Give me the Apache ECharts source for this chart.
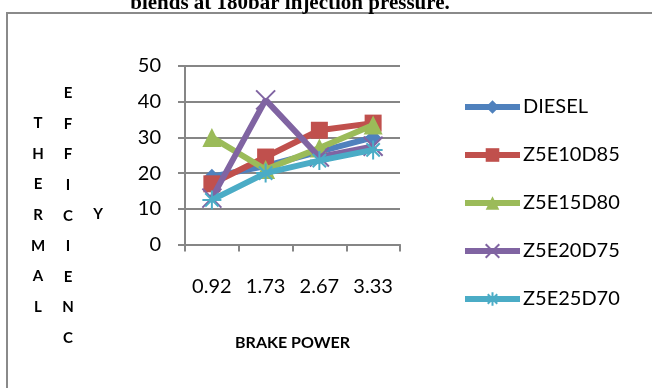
<!DOCTYPE html>
<html>
<head>
<meta charset="utf-8">
<script src="https://cdn.jsdelivr.net/npm/echarts@6/dist/echarts.min.js"></script>
<style>html,body{margin:0;padding:0;background:#fff}#c{width:652px;height:388px}</style>
</head>
<body>
<div id="c"></div>
<script>
const categories = ['0.92', '1.73', '2.67', '3.33'];
const seriesNames = ['DIESEL', 'Z5E10D85', 'Z5E15D80', 'Z5E20D75', 'Z5E25D70'];
const diesel   = [19, 22, 26, 30];
const z5e10d85 = [17, 24.5, 32, 34];
const z5e15d80 = [30, 21, 27, 33.5];
const z5e20d75 = [13, 40.5, 24.5, 27.5];
const z5e25d70 = [12.5, 20, 23.5, 26.5];
const yTicks = [0, 10, 20, 30, 40, 50];

const colors = ['#4F81BD', '#C0504D', '#9BBB59', '#8064A2', '#4BACC6'];
const symbols = [
  'diamond', 'rect', 'triangle',
  'path://M0,0L10,10M10,0L0,10',
  'path://M5,0L5,10M0,5L10,5M1.5,1.5L8.5,8.5M8.5,1.5L1.5,8.5'
];
const sizes = [16, 17, 19, 19, 19];
const values = [diesel, z5e10d85, z5e15d80, z5e20d75, z5e25d70];

const chart = echarts.init(document.getElementById('c'));
chart.setOption({
  animation: false,
  grid: { left: 185, top: 66, right: 252, bottom: 143.5, containLabel: false },
  legend: {
    orient: 'vertical', left: 462, top: 97, padding: 0,
    itemWidth: 55, itemHeight: 17, itemGap: 28,
    lineStyle: { width: 6 },
    textStyle: { fontFamily: 'Lato', fontSize: 20, lineHeight: 20, color: '#000', padding: [0, 0, 0, -2] },
    data: seriesNames
  },
  xAxis: {
    type: 'category', data: categories, boundaryGap: true,
    axisLine: { lineStyle: { color: '#868686', width: 2 } },
    axisTick: { show: true, length: 7, lineStyle: { color: '#868686', width: 2 } },
    axisLabel: { color: '#000', fontFamily: 'Lato', fontSize: 20, margin: 32 },
    name: 'BRAKE POWER', nameLocation: 'middle', nameGap: 90,
    nameTextStyle: { fontFamily: 'Lato', fontWeight: 'bold', fontSize: 16, color: '#000' }
  },
  yAxis: {
    type: 'value', min: 0, max: 50, interval: 10,
    axisLine: { show: true, lineStyle: { color: '#868686', width: 2 } },
    axisTick: { show: true, length: 7, lineStyle: { color: '#868686', width: 2 } },
    splitLine: { lineStyle: { color: '#868686', width: 2 } },
    axisLabel: { color: '#000', fontFamily: 'Lato', fontSize: 20, margin: 24,
      formatter: v => yTicks.includes(v) ? String(v) : '' }
  },
  series: seriesNames.map((n, i) => ({
    name: n, type: 'line', data: values[i],
    symbol: symbols[i], symbolSize: sizes[i],
    lineStyle: { color: colors[i], width: 6 },
    itemStyle: { color: colors[i], borderColor: colors[i], borderWidth: i >= 3 ? 2 : 0 },
    z: 2 + i
  })),
  graphic: [
    { type: 'rect', shape: { x: 7, y: 13, width: 700, height: 420 },
      style: { fill: 'none', stroke: '#8a8a8a', lineWidth: 2 }, silent: true },
    { type: 'text', x: 290, y: 14,
      style: { text: 'blends at 180bar injection pressure.', font: 'bold 21px "Liberation Serif"',
        fill: '#000', textAlign: 'center', textVerticalAlign: 'bottom' } },
    { type: 'text', x: 38, y: 108,
      style: { text: 'T\nH\nE\nR\nM\nA\nL', font: 'bold 15px Lato', lineHeight: 30.6,
        fill: '#000', textAlign: 'center', textVerticalAlign: 'top' } },
    { type: 'text', x: 68, y: 78,
      style: { text: 'E\nF\nF\nI\nC\nI\nE\nN\nC', font: 'bold 15px Lato', lineHeight: 30.6,
        fill: '#000', textAlign: 'center', textVerticalAlign: 'top' } },
    { type: 'text', x: 98, y: 214,
      style: { text: 'Y', font: 'bold 15px Lato', fill: '#000', textAlign: 'center', textVerticalAlign: 'middle' } }
  ]
});
</script>
</body>
</html>
